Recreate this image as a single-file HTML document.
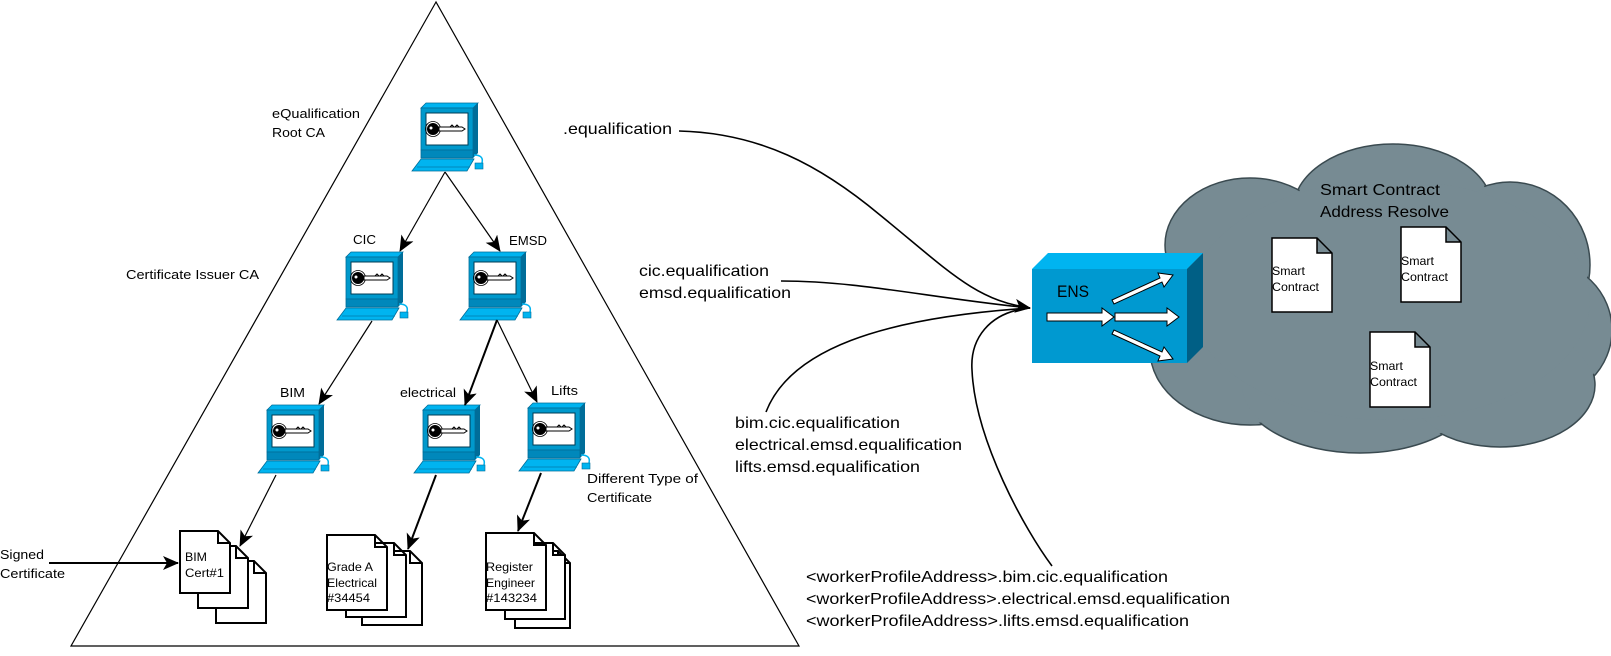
<!DOCTYPE html>
<html><head><meta charset="utf-8"><style>
html,body{margin:0;padding:0;background:#fff;}
svg{display:block;}
text{font-family:"Liberation Sans","DejaVu Sans",sans-serif;fill:#000;}
</style></head><body>
<svg width="1611" height="656" viewBox="0 0 1611 656" xmlns="http://www.w3.org/2000/svg">
<defs>
<marker id="ah" markerWidth="10" markerHeight="10" refX="9" refY="5" orient="auto" markerUnits="userSpaceOnUse" viewBox="0 0 10 10">
<path d="M0,0 L10,5 L0,10 L3,5 z" fill="#000"/></marker>
<marker id="ah2" markerWidth="16" markerHeight="14" refX="15" refY="7" orient="auto" markerUnits="userSpaceOnUse" viewBox="0 0 16 14">
<path d="M0,0 L16,7 L0,14 L4,7 z" fill="#000"/></marker>
<g id="pc">
<polygon points="9,5 14,0 66,0 61,5" fill="#00b4f0" stroke="#006d99" stroke-width="0.8"/>
<polygon points="61,5 66,0 66,50 61,55" fill="#006d99"/>
<rect x="9" y="5" width="52" height="42" fill="#0099cc" stroke="#006d99" stroke-width="0.8"/>
<rect x="14" y="10" width="42" height="32" fill="#fff" stroke="#003c55" stroke-width="1"/>
<rect x="9" y="47" width="52" height="8" fill="#0088bb" stroke="#006d99" stroke-width="0.8"/>
<polygon points="9,56 62,56 55,68 0,68" fill="#00b4f0" stroke="#006d99" stroke-width="0.8"/>
<line x1="5" y1="64" x2="58" y2="64" stroke="#0088bb"/>
<path d="M62,52 Q72,52 70,60" fill="none" stroke="#00b4f0" stroke-width="1.5"/>
<rect x="63" y="60" width="8" height="6" fill="#00b4f0" stroke="#006d99" stroke-width="0.6"/>
<circle cx="21" cy="26" r="6" fill="#000"/><circle cx="21" cy="26" r="7.5" fill="none" stroke="#000" stroke-width="0.8"/>
<circle cx="19" cy="25" r="1.5" fill="#fff"/>
<path d="M27,24 L50,24 L53,26 L50,28 L27,28 z" fill="#fff" stroke="#000" stroke-width="1"/>
<path d="M38,24 l2,-2 l2,2 M43,24 l2,-2 l2,2" fill="none" stroke="#000" stroke-width="1"/>
</g>
</defs>

<!-- triangle -->
<polygon points="436,2 71,646 799,646" fill="none" stroke="#000" stroke-width="1.2"/>

<!-- computers -->
<use href="#pc" x="412" y="103"/>
<use href="#pc" x="337" y="252"/>
<use href="#pc" x="460" y="252"/>
<use href="#pc" x="258" y="405"/>
<use href="#pc" x="414" y="405"/>
<use href="#pc" x="519" y="403"/>

<!-- tree arrows -->
<g stroke="#000" stroke-width="1.2" fill="none" marker-end="url(#ah2)">
<line x1="445" y1="172" x2="400" y2="251"/>
<line x1="445" y1="172" x2="500" y2="251"/>
<line x1="372" y1="321" x2="319" y2="404"/>
<line x1="497" y1="320" x2="465" y2="405" stroke-width="2"/>
<line x1="497" y1="320" x2="537" y2="402"/>
<line x1="276" y1="475" x2="240" y2="546"/>
<line x1="436" y1="475" x2="408" y2="549" stroke-width="2"/>
<line x1="541" y1="473" x2="518" y2="531" stroke-width="2"/>
<line x1="49" y1="563" x2="178" y2="563" stroke-width="2"/>
</g>

<!-- labels in triangle -->
<g font-size="13">
<text x="272" y="118" textLength="88" lengthAdjust="spacingAndGlyphs">eQualification</text>
<text x="272" y="137" textLength="53" lengthAdjust="spacingAndGlyphs">Root CA</text>
<text x="126" y="279" textLength="133" lengthAdjust="spacingAndGlyphs">Certificate Issuer CA</text>
<text x="353" y="244" textLength="23" lengthAdjust="spacingAndGlyphs">CIC</text>
<text x="509" y="245" textLength="38" lengthAdjust="spacingAndGlyphs">EMSD</text>
<text x="280" y="397" textLength="25" lengthAdjust="spacingAndGlyphs">BIM</text>
<text x="400" y="397" textLength="56" lengthAdjust="spacingAndGlyphs">electrical</text>
<text x="551" y="395" textLength="27" lengthAdjust="spacingAndGlyphs">Lifts</text>
<text x="587" y="483" textLength="111" lengthAdjust="spacingAndGlyphs">Different Type of</text>
<text x="587" y="502" textLength="65" lengthAdjust="spacingAndGlyphs">Certificate</text>
<text x="0" y="559" textLength="44" lengthAdjust="spacingAndGlyphs">Signed</text>
<text x="0" y="578" textLength="65" lengthAdjust="spacingAndGlyphs">Certificate</text>
</g>

<!-- documents -->
<g fill="#fff" stroke="#000" stroke-width="2">
<path d="M216,561 h38 l12,12 v50 h-50 z M254,561 v12 h12"/>
<path d="M198,546 h38 l12,12 v50 h-50 z M236,546 v12 h12"/>
<path d="M180,531 h38 l12,12 v50 h-50 z M218,531 v12 h12"/>

<path d="M362,551 h48 l12,12 v62 h-60 z M410,551 v12 h12"/>
<path d="M346,543 h48 l12,12 v62 h-60 z M394,543 v12 h12"/>
<path d="M327,535 h48 l12,12 v63 h-60 z M375,535 v12 h12"/>

<path d="M515,551 h43 l12,12 v65 h-55 z M558,551 v12 h12"/>
<path d="M505,543 h48 l12,12 v64 h-60 z M553,543 v12 h12"/>
<path d="M486,533 h48 l12,12 v65 h-60 z M534,533 v12 h12"/>
</g>
<g font-size="12">
<text x="185" y="561" textLength="22" lengthAdjust="spacingAndGlyphs">BIM</text>
<text x="185" y="577" textLength="39" lengthAdjust="spacingAndGlyphs">Cert#1</text>
<text x="327" y="571" textLength="46" lengthAdjust="spacingAndGlyphs">Grade A</text>
<text x="327" y="587" textLength="50" lengthAdjust="spacingAndGlyphs">Electrical</text>
<text x="327" y="602" textLength="43" lengthAdjust="spacingAndGlyphs">#34454</text>
<text x="486" y="571" textLength="47" lengthAdjust="spacingAndGlyphs">Register</text>
<text x="486" y="587" textLength="49" lengthAdjust="spacingAndGlyphs">Engineer</text>
<text x="486" y="602" textLength="51" lengthAdjust="spacingAndGlyphs">#143234</text>
</g>

<!-- cloud -->
<g fill="#778b93" stroke="#3a4a50" stroke-width="1.5">
<ellipse cx="1393" cy="210" rx="100" ry="66"/>
<ellipse cx="1250" cy="245" rx="85" ry="67"/>
<ellipse cx="1510" cy="265" rx="80" ry="83"/>
<ellipse cx="1540" cy="330" rx="72" ry="70"/>
<ellipse cx="1250" cy="350" rx="100" ry="75"/>
<ellipse cx="1360" cy="385" rx="120" ry="68"/>
<ellipse cx="1500" cy="385" rx="95" ry="62"/>
</g>
<g fill="#778b93">
<ellipse cx="1393" cy="210" rx="98" ry="64"/>
<ellipse cx="1250" cy="245" rx="83" ry="65"/>
<ellipse cx="1510" cy="265" rx="78" ry="81"/>
<ellipse cx="1540" cy="330" rx="70" ry="68"/>
<ellipse cx="1250" cy="350" rx="98" ry="73"/>
<ellipse cx="1360" cy="385" rx="118" ry="66"/>
<ellipse cx="1500" cy="385" rx="93" ry="60"/>
<ellipse cx="1390" cy="300" rx="200" ry="120"/>
</g>
<g font-size="16">
<text x="1320" y="195" textLength="120" lengthAdjust="spacingAndGlyphs">Smart Contract</text>
<text x="1320" y="217" textLength="129" lengthAdjust="spacingAndGlyphs">Address Resolve</text>
</g>
<g fill="#fff" stroke="#000" stroke-width="1.5">
<path d="M1272,238 h45 l15,15 v59 h-60 z M1317,238 v15 h15"/>
<path d="M1401,227 h45 l15,15 v60 h-60 z M1446,227 v15 h15"/>
<path d="M1370,332 h45 l15,15 v60 h-60 z M1415,332 v15 h15"/>
</g>
<g font-size="12">
<text x="1272" y="275" textLength="33" lengthAdjust="spacingAndGlyphs">Smart</text>
<text x="1272" y="291" textLength="47" lengthAdjust="spacingAndGlyphs">Contract</text>
<text x="1401" y="265" textLength="33" lengthAdjust="spacingAndGlyphs">Smart</text>
<text x="1401" y="281" textLength="47" lengthAdjust="spacingAndGlyphs">Contract</text>
<text x="1370" y="370" textLength="33" lengthAdjust="spacingAndGlyphs">Smart</text>
<text x="1370" y="386" textLength="47" lengthAdjust="spacingAndGlyphs">Contract</text>
</g>

<!-- ENS box -->
<polygon points="1032,269 1048,253 1203,253 1187,269" fill="#00b4f0"/>
<polygon points="1187,269 1203,253 1203,347 1187,363" fill="#005f85"/>
<rect x="1032" y="269" width="155" height="94" fill="#0099d0"/>
<text x="1057" y="297" font-size="17" textLength="32" lengthAdjust="spacingAndGlyphs">ENS</text>
<g fill="#fff" stroke="#000" stroke-width="1">
<path d="M1047,313 h55 v-5 l12,9 l-12,9 v-5 h-55 z"/>
<path d="M1115,313 h52 v-5 l12,9 l-12,9 v-5 h-52 z"/>
<path d="M1112,300 l48,-22 l-2,-5 l15,2 l-9,12 l-2,-5 l-48,22 z"/>
<path d="M1112,334 l48,22 l-2,5 l15,-2 l-9,-12 l-2,5 l-48,-22 z"/>
</g>

<!-- connectors to ENS -->
<g fill="none" stroke="#000" stroke-width="1.6">
<path d="M679,131 C760,133 820,165 880,215 C950,272 975,300 1030,308" marker-end="url(#ah2)"/>
<path d="M781,281 C860,281 930,298 1030,308"/>
<path d="M766,412 C790,350 880,318 1030,308"/>
<path d="M1030,308 C988,312 970,340 972,370 C975,440 1025,530 1052,566"/>
</g>

<g font-size="16">
<text x="563" y="134" textLength="109" lengthAdjust="spacingAndGlyphs">.equalification</text>
<text x="639" y="276" textLength="130" lengthAdjust="spacingAndGlyphs">cic.equalification</text>
<text x="639" y="298" textLength="152" lengthAdjust="spacingAndGlyphs">emsd.equalification</text>
<text x="735" y="428" textLength="165" lengthAdjust="spacingAndGlyphs">bim.cic.equalification</text>
<text x="735" y="450" textLength="227" lengthAdjust="spacingAndGlyphs">electrical.emsd.equalification</text>
<text x="735" y="472" textLength="185" lengthAdjust="spacingAndGlyphs">lifts.emsd.equalification</text>
<text x="806" y="582" textLength="362" lengthAdjust="spacingAndGlyphs">&lt;workerProfileAddress&gt;.bim.cic.equalification</text>
<text x="806" y="604" textLength="424" lengthAdjust="spacingAndGlyphs">&lt;workerProfileAddress&gt;.electrical.emsd.equalification</text>
<text x="806" y="626" textLength="383" lengthAdjust="spacingAndGlyphs">&lt;workerProfileAddress&gt;.lifts.emsd.equalification</text>
</g>
</svg>
</body></html>
